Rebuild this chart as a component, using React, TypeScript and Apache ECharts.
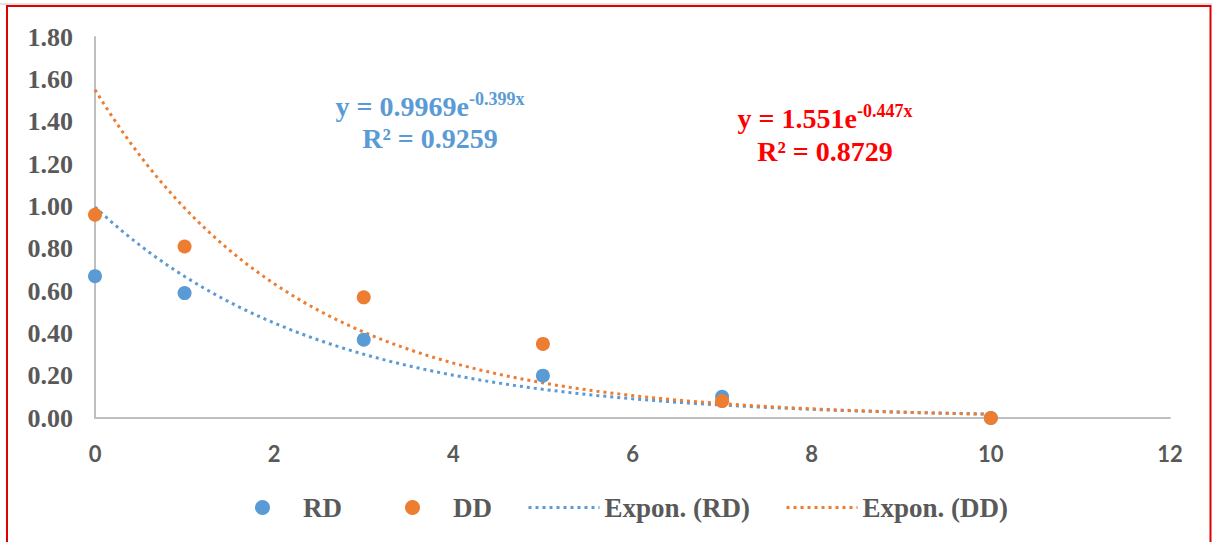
import React, { useEffect, useRef } from "react";
import * as echarts from "echarts";

// Observed data
const xValues = [0, 1, 3, 5, 7, 10];
const rdValues = [0.67, 0.59, 0.37, 0.2, 0.1, 0.0];
const ddValues = [0.96, 0.81, 0.57, 0.35, 0.08, 0.0];

// Exponential trendline coefficients as printed on the chart
const rdFit = { a: 0.9969, b: -0.399, r2: "0.9259" };
const ddFit = { a: 1.551, b: -0.447, r2: "0.8729" };
const trendRange = [0, 10];

const seriesNames = ["RD", "DD", "Expon. (RD)", "Expon. (DD)"];

const BLUE = "#5B9BD5";
const ORANGE = "#ED7D31";
const GRAY_TEXT = "#595959";
const AXIS_GRAY = "#BFBFBF";
const SERIF = "'Liberation Serif', 'Times New Roman', serif";

function trend(fit: { a: number; b: number }) {
  const pts: number[][] = [];
  const n = 100;
  for (let i = 0; i <= n; i++) {
    const x = trendRange[0] + ((trendRange[1] - trendRange[0]) * i) / n;
    pts.push([x, fit.a * Math.exp(fit.b * x)]);
  }
  return pts;
}

export default function App() {
  const ref = useRef<HTMLDivElement>(null);

  useEffect(() => {
    if (!ref.current) return;
    const chart = echarts.init(ref.current, null, { renderer: "svg" });

    const eqRich = (color: string) => ({
      b: { fontFamily: SERIF, fontWeight: "bold", fontSize: 28, fill: color, lineHeight: 32 },
      s: { fontFamily: SERIF, fontWeight: "bold", fontSize: 18, fill: color, lineHeight: 18, verticalAlign: "top" },
    });

    const dotted = [3, 4];

    const option: any = {
      animation: false,
      backgroundColor: "#ffffff",
      grid: { left: 95, right: 42, top: 37, bottom: 124, containLabel: false, outerBoundsMode: "none" },
      xAxis: {
        type: "value",
        min: 0,
        max: 12,
        interval: 2,
        axisLine: { show: true, lineStyle: { color: AXIS_GRAY, width: 2 } },
        axisTick: { show: false },
        splitLine: { show: false },
        axisLabel: {
          color: GRAY_TEXT,
          fontFamily: "Lato, 'Liberation Sans', sans-serif",
          fontWeight: "bold",
          fontSize: 22,
          margin: 24,
        },
      },
      yAxis: {
        type: "value",
        min: 0,
        max: 1.8,
        interval: 0.2,
        axisLine: { show: true, lineStyle: { color: AXIS_GRAY, width: 2 } },
        axisTick: { show: false },
        splitLine: { show: false },
        axisLabel: {
          color: GRAY_TEXT,
          fontFamily: SERIF,
          fontWeight: "bold",
          fontSize: 26,
          margin: 22,
          formatter: (v: number) => v.toFixed(2),
        },
      },
      legend: [
        {
          data: [seriesNames[0], seriesNames[1]],
          left: 255,
          top: 494,
          padding: 0,
          itemWidth: 15,
          itemHeight: 15,
          itemGap: 63,
          icon: "circle",
          textStyle: {
            color: GRAY_TEXT,
            fontFamily: SERIF,
            fontWeight: "bold",
            fontSize: 27,
            padding: [0, 0, 0, 28],
          },
        },
        {
          data: [seriesNames[2], seriesNames[3]],
          left: 527,
          top: 494,
          padding: 0,
          itemWidth: 71,
          itemHeight: 14,
          itemGap: 35,
          itemStyle: { opacity: 0 },
          lineStyle: { width: 3, type: dotted },
          textStyle: {
            color: GRAY_TEXT,
            fontFamily: SERIF,
            fontWeight: "bold",
            fontSize: 27,
          },
        },
      ],
      series: [
        {
          name: seriesNames[2],
          type: "line",
          data: trend(rdFit),
          showSymbol: false,
          symbol: "none",
          z: 1,
          lineStyle: { color: BLUE, width: 3, type: dotted },
          itemStyle: { color: BLUE },
        },
        {
          name: seriesNames[3],
          type: "line",
          data: trend(ddFit),
          showSymbol: false,
          symbol: "none",
          z: 1,
          lineStyle: { color: ORANGE, width: 3, type: dotted },
          itemStyle: { color: ORANGE },
        },
        {
          name: seriesNames[0],
          type: "scatter",
          data: xValues.map((x, i) => [x, rdValues[i]]),
          symbolSize: 14,
          z: 3,
          itemStyle: { color: BLUE, opacity: 1 },
        },
        {
          name: seriesNames[1],
          type: "scatter",
          data: xValues.map((x, i) => [x, ddValues[i]]),
          symbolSize: 14,
          z: 4,
          itemStyle: { color: ORANGE, opacity: 1 },
        },
      ],
      graphic: [
        {
          type: "rect",
          silent: true,
          shape: { x: 7, y: 6, width: 1203.5, height: 600 },
          style: { fill: "none", stroke: "#E00000", lineWidth: 2 },
          z: 100,
        },
        {
          type: "line",
          silent: true,
          shape: { x1: 0, y1: 4, x2: 1212, y2: 4 },
          style: { stroke: "#C8C8C8", lineWidth: 1 },
          z: 100,
        },
        {
          type: "text",
          x: 430,
          y: 106,
          style: {
            text: `{b|y = ${rdFit.a}e}{s|${rdFit.b}x}`,
            align: "center",
            verticalAlign: "middle",
            rich: eqRich(BLUE),
          },
        },
        {
          type: "text",
          x: 430,
          y: 138,
          style: {
            text: `R² = ${rdFit.r2}`,
            align: "center",
            verticalAlign: "middle",
            fontFamily: SERIF,
            fontWeight: "bold",
            fontSize: 28,
            fill: BLUE,
          },
        },
        {
          type: "text",
          x: 825,
          y: 118,
          style: {
            text: `{b|y = ${ddFit.a}e}{s|${ddFit.b}x}`,
            align: "center",
            verticalAlign: "middle",
            rich: eqRich("#FF0000"),
          },
        },
        {
          type: "text",
          x: 825,
          y: 151,
          style: {
            text: `R² = ${ddFit.r2}`,
            align: "center",
            verticalAlign: "middle",
            fontFamily: SERIF,
            fontWeight: "bold",
            fontSize: 28,
            fill: "#FF0000",
          },
        },
      ],
    };

    chart.setOption(option);
    return () => chart.dispose();
  }, []);

  return (
    <div
      ref={ref}
      style={{ position: "absolute", left: 0, top: 0, width: 1212, height: 542 }}
    />
  );
}
